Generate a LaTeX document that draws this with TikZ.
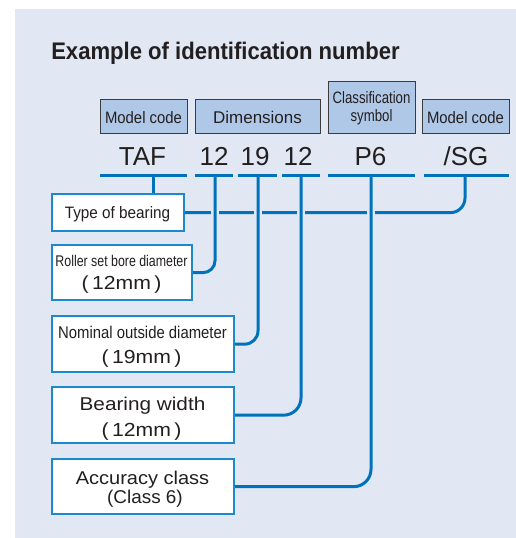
\documentclass[tikz,border=0pt]{standalone}
\usepackage{fontspec}
\setmainfont{Liberation Sans}
\newfontfamily\titlef[FakeStretch=0.92]{Liberation Sans}
\newfontfamily\condmc[FakeStretch=0.9]{Liberation Sans}
\newfontfamily\condcl[FakeStretch=0.8]{Liberation Sans}
\newfontfamily\condtb[FakeStretch=0.925]{Liberation Sans}
\newfontfamily\condrs[FakeStretch=0.8]{Liberation Sans}
\newfontfamily\condno[FakeStretch=0.875]{Liberation Sans}
\newfontfamily\widebw[FakeStretch=1.12]{Liberation Sans}
\newfontfamily\wideac[FakeStretch=1.08]{Liberation Sans}
\newfontfamily\widecl[FakeStretch=1.02]{Liberation Sans}
\newfontfamily\widemm[FakeStretch=1.12]{Liberation Sans}
\definecolor{bgc}{RGB}{225,232,243}
\definecolor{lineblue}{RGB}{0,114,188}
\definecolor{boxblue}{RGB}{30,136,205}
\definecolor{topfill}{RGB}{176,200,232}
\definecolor{topdraw}{RGB}{60,60,60}
\definecolor{textc}{RGB}{35,31,32}
\newcommand\fp{(\kern2.6pt}
\newcommand\fq{\kern2.6pt)}
\begin{document}
\begin{tikzpicture}[x=0.75pt,y=-0.75pt,
  conn/.style={draw=lineblue, line width=2.25pt},
  halo/.style={draw=bgc, line width=6pt},
  lbox/.style={draw=boxblue, line width=1pt, fill=white, inner sep=0pt, anchor=north west},
  tbox/.style={draw=topdraw, line width=0.75pt, fill=topfill, inner sep=0pt, anchor=north west},
  txt/.style={anchor=base, inner sep=0pt, text=textc},
  mmtext/.style={txt, font=\widemm\fontsize{14.2pt}{14.2pt}\selectfont}]
\useasboundingbox (0,0) rectangle (516,538);
\fill[bgc] (15,9) rectangle (516,538);
% title
\node[txt, anchor=base west, font=\titlef\bfseries\fontsize{18pt}{18pt}\selectfont] (title) at (51,60) {Example of identification number};
% top label boxes
\node[tbox, minimum width={87*0.75pt}, minimum height={34*0.75pt}] (mc1) at (100,99) {};
\node[tbox, minimum width={125*0.75pt}, minimum height={34*0.75pt}] (dim) at (195,99) {};
\node[tbox, minimum width={87*0.75pt}, minimum height={52*0.75pt}] (cls) at (328,81) {};
\node[tbox, minimum width={87*0.75pt}, minimum height={34*0.75pt}] (mc2) at (422,99) {};
\node[txt, font=\condmc\fontsize{12.4pt}{12.4pt}\selectfont] (mc1t) at (143.5,124) {Model code};
\node[txt, font=\fontsize{12.75pt}{12.75pt}\selectfont] (dimt) at (257.5,124) {Dimensions};
\node[txt, font=\condcl\fontsize{12.4pt}{12.4pt}\selectfont] (clst1) at (371.5,104) {Classification};
\node[txt, font=\condcl\fontsize{12.4pt}{12.4pt}\selectfont] (clst2) at (371.5,122) {symbol};
\node[txt, font=\condmc\fontsize{12.4pt}{12.4pt}\selectfont] (mc2t) at (465.5,124) {Model code};
% code
\node[txt, font=\fontsize{19.5pt}{19.5pt}\selectfont] (cTAF) at (142.5,166) {TAF};
\node[txt, font=\fontsize{19.5pt}{19.5pt}\selectfont] (c12a) at (214,166) {12};
\node[txt, font=\fontsize{19.5pt}{19.5pt}\selectfont] (c19) at (255,166) {19};
\node[txt, font=\fontsize{19.5pt}{19.5pt}\selectfont] (c12b) at (298,166) {12};
\node[txt, font=\fontsize{19.5pt}{19.5pt}\selectfont] (cP6) at (370.5,166) {P6};
\node[txt, font=\fontsize{19.5pt}{19.5pt}\selectfont] (cSG) at (466,166) {/SG};
% underlines
\draw[conn] (100,176) -- (187,176);
\draw[conn] (195,176) -- (233,176);
\draw[conn] (238,176) -- (277,176);
\draw[conn] (282,176) -- (320,176);
\draw[conn] (328,176) -- (415,176);
\draw[conn] (424,176) -- (509,176);
\coordinate (uTAF) at (153,176);
\coordinate (u12a) at (215,176);
\coordinate (u19) at (258,176);
\coordinate (u12b) at (301,176);
\coordinate (uP6) at (371,176);
\coordinate (uSG) at (465,176);
% lower boxes
\node[lbox, minimum width={131*0.75pt}, minimum height={36*0.75pt}] (tob) at (52,194) {};
\node[lbox, minimum width={139*0.75pt}, minimum height={54*0.75pt}] (rsb) at (52,245) {};
\node[lbox, minimum width={181*0.75pt}, minimum height={55*0.75pt}] (nod) at (52,316) {};
\node[lbox, minimum width={181*0.75pt}, minimum height={55*0.75pt}] (bw) at (52,387) {};
\node[lbox, minimum width={181*0.75pt}, minimum height={54*0.75pt}] (acc) at (52,459) {};
% connectors
\draw[conn] (uTAF) -- (uTAF |- tob.north);
\draw[conn, rounded corners=11pt] (tob.east) -- (tob.east -| uSG) -- (uSG);
\draw[halo, shorten <=20pt, shorten >=-6pt] (u12a) -- (u12a |- tob.east);
\draw[halo, shorten <=20pt, shorten >=-6pt] (u19) -- (u19 |- tob.east);
\draw[halo, shorten <=20pt, shorten >=-6pt] (u12b) -- (u12b |- tob.east);
\draw[halo, shorten <=20pt, shorten >=-6pt] (uP6) -- (uP6 |- tob.east);
\draw[conn, rounded corners=9pt] (u12a) -- (u12a |- rsb.east) -- (rsb.east);
\draw[conn, rounded corners=10pt] (u19) -- (u19 |- nod.east) -- (nod.east);
\draw[conn, rounded corners=13pt] (u12b) -- (u12b |- bw.east) -- (bw.east);
\draw[conn, rounded corners=13pt] (uP6) -- (uP6 |- acc.east) -- (acc.east);
% redraw box borders over line ends
\draw[boxblue, line width=1pt] (tob.north west) rectangle (tob.south east);
\draw[boxblue, line width=1pt] (rsb.north west) rectangle (rsb.south east);
\draw[boxblue, line width=1pt] (nod.north west) rectangle (nod.south east);
\draw[boxblue, line width=1pt] (bw.north west) rectangle (bw.south east);
\draw[boxblue, line width=1pt] (acc.north west) rectangle (acc.south east);
% box texts
\node[txt, font=\condtb\fontsize{12.4pt}{12.4pt}\selectfont] (tobt) at (117.5,219) {Type of bearing};
\node[txt, font=\condrs\fontsize{11.6pt}{11.6pt}\selectfont] (rsbt1) at (121.5,266) {Roller set bore diameter};
\node[mmtext] (rsbt2) at (121.5,289) {\fp12mm\fq};
\node[txt, font=\condno\fontsize{12.75pt}{12.75pt}\selectfont] (nodt1) at (142.5,338) {Nominal outside diameter};
\node[mmtext] (nodt2) at (141.5,363) {\fp19mm\fq};
\node[txt, font=\widebw\fontsize{13.9pt}{13.9pt}\selectfont] (bwt1) at (142.5,410) {Bearing width};
\node[mmtext] (bwt2) at (141.5,436) {\fp12mm\fq};
\node[txt, font=\wideac\fontsize{13.9pt}{13.9pt}\selectfont] (acct1) at (142.5,484) {Accuracy class};
\node[txt, font=\widecl\fontsize{13.9pt}{13.9pt}\selectfont] (acct2) at (145,503) {(Class 6)};
\end{tikzpicture}
\end{document}
